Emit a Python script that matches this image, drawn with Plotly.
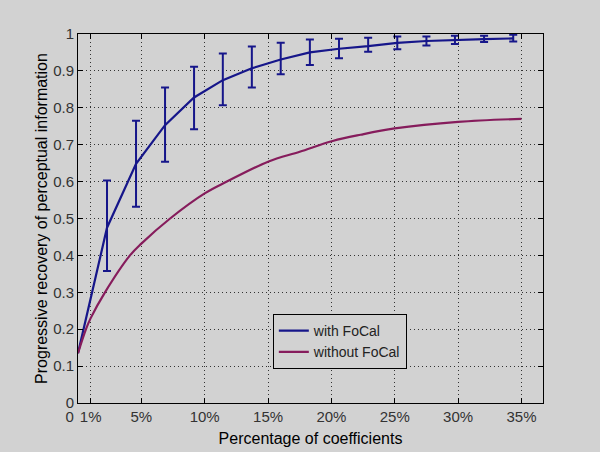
import plotly.graph_objects as go

# ---- data ----
bar_x = [2.29, 4.58, 6.87, 9.16, 11.43, 13.72, 16.0, 18.3, 20.6, 22.9, 25.2, 27.5, 29.75, 32.05, 34.35]
with_mean = [0.475, 0.648, 0.753, 0.828, 0.875, 0.907, 0.931, 0.950, 0.960, 0.967, 0.976, 0.981, 0.984, 0.986, 0.988]
with_top = [0.603, 0.765, 0.855, 0.911, 0.947, 0.966, 0.976, 0.985, 0.987, 0.990, 0.993, 0.993, 0.995, 0.995, 0.998]
with_bot = [0.358, 0.532, 0.654, 0.742, 0.807, 0.855, 0.891, 0.916, 0.934, 0.952, 0.959, 0.969, 0.973, 0.978, 0.980]
start_x = 0.0
start_y = 0.135

without_x = [0.0, 0.63, 1.0, 2.13, 4.1, 5.0, 7.27, 10.0, 11.75, 15.0, 17.5, 20.1, 22.3, 25.0, 30.0, 35.0]
without_y = [0.135, 0.20, 0.23, 0.30, 0.40, 0.432, 0.50, 0.568, 0.600, 0.654, 0.681, 0.710, 0.727, 0.744, 0.762, 0.770]

tick_vals = [0, 1, 5, 10, 15, 20, 25, 30, 35]
tick_text = ["0\u00a0\u00a0\u00a0\u00a0", "1%", "5%", "10%", "15%", "20%", "25%", "30%", "35%"]
y_ticks = [0, 0.1, 0.2, 0.3, 0.4, 0.5, 0.6, 0.7, 0.8, 0.9, 1]
y_text = ["0", "0.1", "0.2", "0.3", "0.4", "0.5", "0.6", "0.7", "0.8", "0.9", "1"]

BLUE = "#16168a"
PURPLE = "#861c5c"
BG = "#d2d2d2"
FONT = "Liberation Sans, Arial, sans-serif"

fig = go.Figure()

# line of the "with FoCal" curve
fig.add_trace(go.Scatter(
    x=[start_x] + bar_x, y=[start_y] + with_mean,
    mode="lines", line=dict(color=BLUE, width=2.2),
    name="with FoCal"))

# error bars
fig.add_trace(go.Scatter(
    x=bar_x, y=with_mean, mode="markers",
    marker=dict(size=1, color=BLUE, opacity=0),
    error_y=dict(type="data", symmetric=False,
                 array=[t - m for t, m in zip(with_top, with_mean)],
                 arrayminus=[m - b for m, b in zip(with_mean, with_bot)],
                 color=BLUE, thickness=2, width=4),
    showlegend=False, hoverinfo="skip"))

fig.add_trace(go.Scatter(
    x=without_x, y=without_y, mode="lines",
    line=dict(color=PURPLE, width=2.2, shape="spline", smoothing=1.0),
    name="without FoCal"))

axis_common = dict(
    showline=True, linecolor="black", linewidth=1, mirror="ticks",
    ticks="inside", ticklen=5, tickcolor="black", tickwidth=1,
    showgrid=True, gridcolor="#333333", griddash="1px,3px", gridwidth=1,
    zeroline=False, tickfont=dict(family=FONT, size=15, color="#333333"),
)

fig.update_xaxes(range=[0, 36.7], tickvals=tick_vals, ticktext=tick_text,
                 tickangle=0,
                 title=dict(text="Percentage of coefficients",
                            font=dict(family=FONT, size=16, color="black"),
                            standoff=8),
                 **axis_common)
fig.update_yaxes(range=[0, 1], tickvals=y_ticks, ticktext=y_text,
                 title=dict(text="Progressive recovery of perceptual information",
                            font=dict(family=FONT, size=16, color="black"),
                            standoff=1),
                 **axis_common)

fig.update_layout(
    width=600, height=452,
    margin=dict(l=78, r=57, t=34, b=49, autoexpand=False),
    paper_bgcolor=BG, plot_bgcolor=BG,
    font=dict(family=FONT, size=14, color="black"),
    legend=dict(x=0.419, y=0.241, xanchor="left", yanchor="top",
                bgcolor=BG, bordercolor="black", borderwidth=1,
                font=dict(family=FONT, size=14, color="#222222"),
                tracegroupgap=0, itemwidth=30),
    showlegend=True,
)

fig.write_html("out.html", config={"displayModeBar": False},
               post_script="document.body.style.margin='0';"
                           "document.body.style.background='#d2d2d2';")
